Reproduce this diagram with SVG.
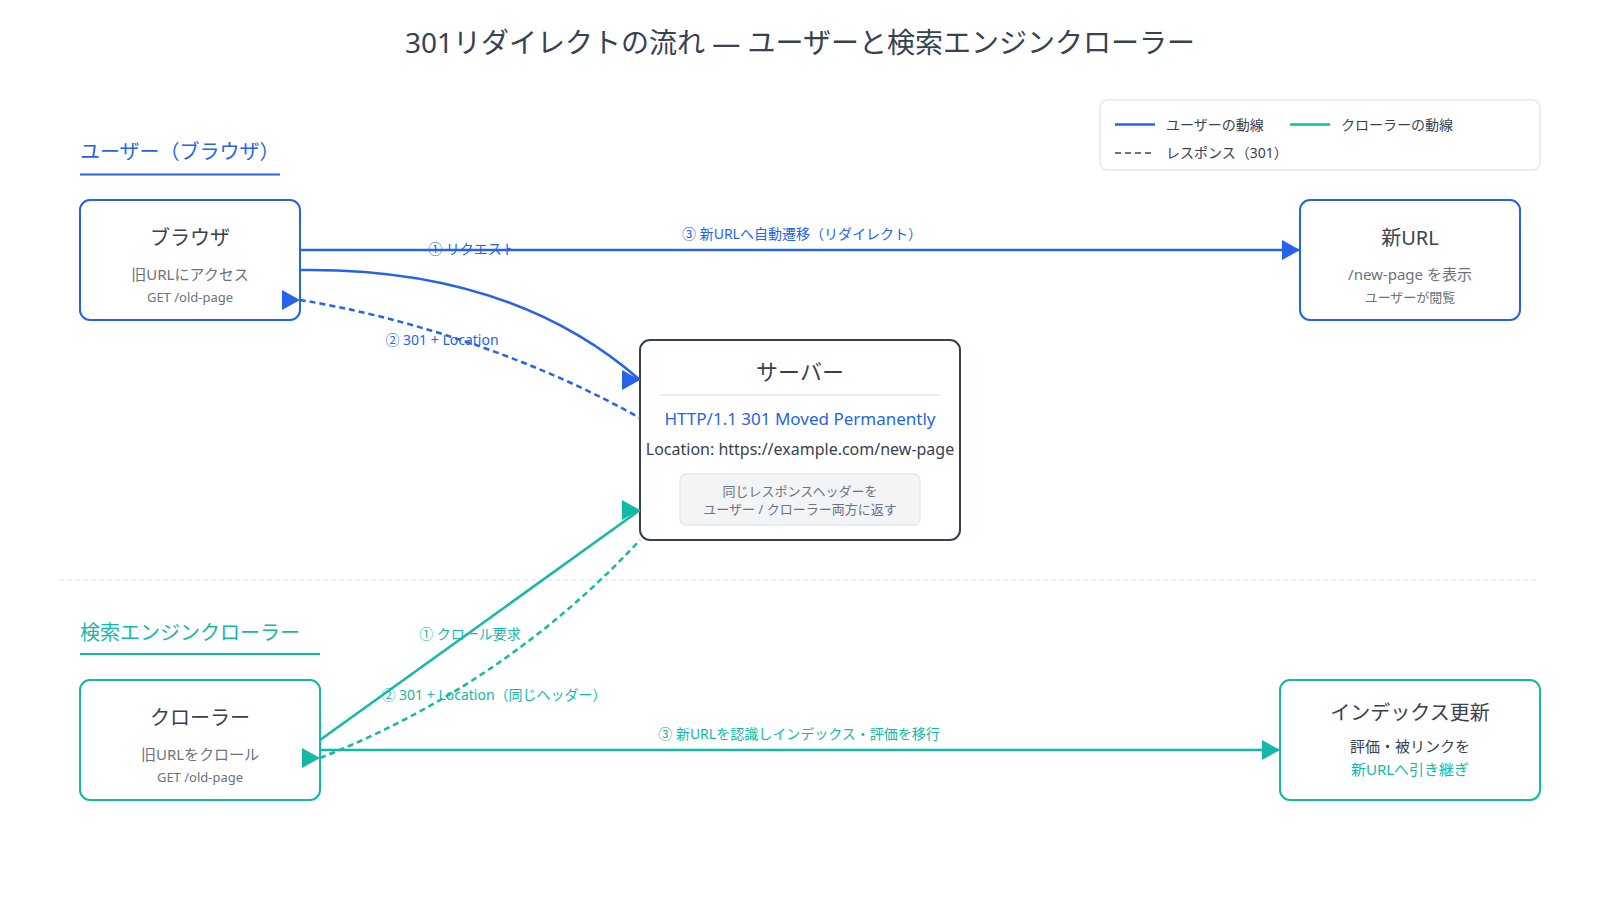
<svg xmlns="http://www.w3.org/2000/svg" width="1600" height="900" viewBox="0 0 1600 900">
<style>
text{font-family:"Noto Sans","Noto Sans CJK JP",sans-serif}
.title{font-size:28px;fill:#374151}
.sec-u{font-size:20px;fill:#2563eb}
.sec-c{font-size:20px;fill:#14b8a6}
.nt{font-size:20px;fill:#374151;text-anchor:middle}
.ns{font-size:15px;fill:#6b7280;text-anchor:middle}
.nss{font-size:13px;fill:#6b7280;text-anchor:middle}
.box-u{fill:#fff;stroke:#2563eb;stroke-width:2}
.box-c{fill:#fff;stroke:#14b8a6;stroke-width:2}
.lbl-u{font-size:14px;fill:#2563eb;text-anchor:middle}
.lbl-c{font-size:14px;fill:#14b8a6;text-anchor:middle}
.leg{font-size:14px;fill:#374151}
.cu{fill:none;stroke:#2563eb;stroke-width:2.5}
.cc{fill:none;stroke:#14b8a6;stroke-width:2.5}
.dash{stroke-dasharray:6 4}
</style>
<defs>
<marker id="ah-u" markerUnits="userSpaceOnUse" markerWidth="18" markerHeight="20" refX="18" refY="10" orient="0" viewBox="0 0 18 20"><path d="M0,0 L18,10 L0,20 z" fill="#2563eb"/></marker>
<marker id="ah-c" markerUnits="userSpaceOnUse" markerWidth="18" markerHeight="20" refX="18" refY="10" orient="0" viewBox="0 0 18 20"><path d="M0,0 L18,10 L0,20 z" fill="#14b8a6"/></marker>
</defs>
<rect width="1600" height="900" fill="#fff"/>
<text class="title" x="800" y="53" text-anchor="middle">301リダイレクトの流れ — ユーザーと検索エンジンクローラー</text>

<g id="legend">
<rect x="1100" y="100" width="440" height="70" rx="8" fill="#fff" stroke="#e5e7eb" stroke-width="1.5"/>
<line x1="1115" y1="124.5" x2="1155" y2="124.5" stroke="#2563eb" stroke-width="2.5"/>
<text class="leg" x="1166" y="129.5">ユーザーの動線</text>
<line x1="1290" y1="124.5" x2="1330" y2="124.5" stroke="#14b8a6" stroke-width="2.5"/>
<text class="leg" x="1341" y="129.5">クローラーの動線</text>
<line x1="1115" y1="153" x2="1155" y2="153" stroke="#6b7280" stroke-width="2" stroke-dasharray="6 4"/>
<text class="leg" x="1166" y="158">レスポンス（301）</text>
</g>

<g id="section-user">
<text class="sec-u" x="80" y="159">ユーザー（ブラウザ）</text>
<line x1="80" y1="174.5" x2="280" y2="174.5" stroke="#2563eb" stroke-width="2"/>
</g>
<g id="section-crawler">
<text class="sec-c" x="80" y="640">検索エンジンクローラー</text>
<line x1="80" y1="654" x2="320" y2="654" stroke="#14b8a6" stroke-width="2"/>
</g>
<line id="divider" x1="60" y1="580" x2="1540" y2="580" stroke="#e5e7eb" stroke-width="1.5" stroke-dasharray="4 4"/>

<g id="browser">
<rect class="box-u" x="80" y="200" width="220" height="120" rx="10"/>
<text class="nt" x="190" y="245">ブラウザ</text>
<text class="ns" x="190" y="280">旧URLにアクセス</text>
<text class="nss" x="190" y="302">GET /old-page</text>
</g>

<g id="newurl">
<rect class="box-u" x="1300" y="200" width="220" height="120" rx="10"/>
<text class="nt" x="1410" y="245">新URL</text>
<text class="ns" x="1410" y="280">/new-page を表示</text>
<text class="nss" x="1410" y="302">ユーザーが閲覧</text>
</g>

<g id="server">
<rect x="640" y="340" width="320" height="200" rx="10" fill="#fff" stroke="#374151" stroke-width="2"/>
<text x="800" y="380" text-anchor="middle" font-size="22" fill="#374151">サーバー</text>
<line x1="660" y1="395" x2="940" y2="395" stroke="#e5e7eb" stroke-width="1.5"/>
<text x="800" y="425" text-anchor="middle" font-size="17" fill="#2563eb">HTTP/1.1 301 Moved Permanently</text>
<text x="800" y="455" text-anchor="middle" font-size="16" fill="#374151">Location: https://example.com/new-page</text>
<rect x="680" y="474" width="240" height="51" rx="6" fill="#f3f4f6" stroke="#e5e7eb" stroke-width="1.5"/>
<text class="nss" x="800" y="496">同じレスポンスヘッダーを</text>
<text class="nss" x="800" y="514">ユーザー / クローラー両方に返す</text>
</g>

<g id="crawler">
<rect class="box-c" x="80" y="680" width="240" height="120" rx="10"/>
<text class="nt" x="200" y="725">クローラー</text>
<text class="ns" x="200" y="760">旧URLをクロール</text>
<text class="nss" x="200" y="782">GET /old-page</text>
</g>

<g id="index">
<rect class="box-c" x="1280" y="680" width="260" height="120" rx="10"/>
<text class="nt" x="1410" y="720">インデックス更新</text>
<text x="1410" y="752" text-anchor="middle" font-size="15" fill="#374151">評価・被リンクを</text>
<text x="1410" y="775" text-anchor="middle" font-size="15" fill="#14b8a6">新URLへ引き継ぎ</text>
</g>

<g id="connectors">
<path class="cu" d="M300,250 L1300,250" marker-end="url(#ah-u)"/>
<path class="cu" d="M300,270 C450,268 560,310 640,380" marker-end="url(#ah-u)"/>
<path class="cu dash" d="M300,300 C400,316 530,356 640,418" marker-start="url(#ah-u)"/>
<path class="cc" d="M320,740 L640,510" marker-end="url(#ah-c)"/>
<path class="cc dash" d="M320,758 Q505,685 640,540" marker-start="url(#ah-c)"/>
<path class="cc" d="M320,750 L1280,750" marker-end="url(#ah-c)"/>
<text class="lbl-u" x="472" y="254">① リクエスト</text>
<text class="lbl-u" x="802" y="239">③ 新URLへ自動遷移（リダイレクト）</text>
<text class="lbl-u" x="442" y="345">② 301 + Location</text>
<text class="lbl-c" x="470" y="639">① クロール要求</text>
<text class="lbl-c" x="494" y="700">② 301 + Location（同じヘッダー）</text>
<text class="lbl-c" x="799" y="739">③ 新URLを認識しインデックス・評価を移行</text>
</g>
</svg>
